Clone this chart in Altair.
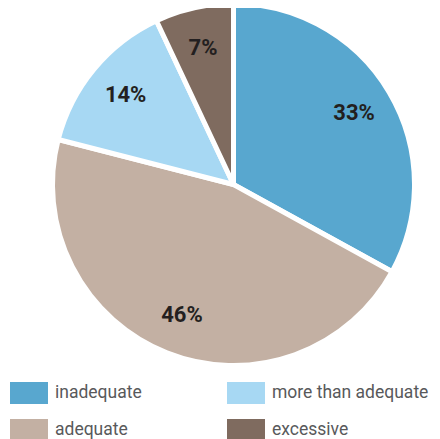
import altair as alt
import pandas as pd

categories = ["inadequate", "adequate", "more than adequate", "excessive"]
values = [33, 46, 14, 7]
labels = ["33%", "46%", "14%", "7%"]
stack_order = [0, 1, 2, 3]

legend_order = ["inadequate", "adequate", "more than adequate", "excessive"]
legend_colors = ["#58a7cf", "#c3b0a3", "#a7d8f3", "#7f6b5f"]

df = pd.DataFrame({
    "category": categories,
    "value": values,
    "label": labels,
    "order": stack_order,
})

cx, cy = 225.5, 176.5

base = alt.Chart(df).encode(
    theta=alt.Theta("value:Q", stack=True),
    order=alt.Order("order:Q"),
)

arcs = base.mark_arc(outerRadius=181, stroke="white", strokeWidth=5).encode(
    x=alt.value(cx),
    y=alt.value(cy),
    color=alt.Color(
        "category:N",
        scale=alt.Scale(domain=legend_order, range=legend_colors),
        legend=alt.Legend(
            title=None,
            orient="none",
            legendX=2,
            legendY=374,
            columns=2,
            columnPadding=85,
            rowPadding=15,
            padding=0,
            symbolType="M-1,-1H2.4545V1H-1Z",
            symbolSize=484,
            symbolStrokeWidth=0,
            symbolOpacity=1,
            labelOffset=23,
            labelFont="Roboto",
            labelFontSize=17.5,
            labelColor="#58595b",
            labelLimit=300,
        ),
    ),
)

text = base.mark_text(
    radius=140,
    font="Roboto",
    fontSize=22,
    fontWeight="bold",
    color="#231f20",
).encode(
    x=alt.value(cx),
    y=alt.value(cy),
    text="label:N",
)

chart = (arcs + text).properties(
    width=424,
    height=431,
    autosize=alt.AutoSizeParams(type="none"),
    padding=0,
).configure_view(stroke=None)

chart.save("out.html", embed_options={"renderer": "svg", "actions": False})
